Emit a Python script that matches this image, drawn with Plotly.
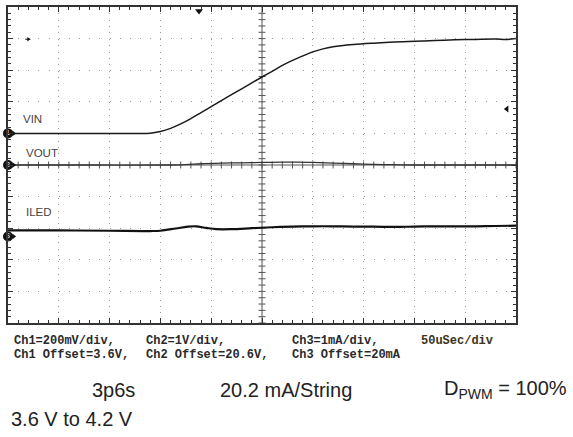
import numpy as np
import plotly.graph_objects as go

# ---------------- data (read from the scope capture) ----------------
time_us = [0, 20, 40, 60, 80, 100, 120, 140, 150, 160, 170, 180, 190, 200, 210, 220,
           230, 240, 250, 260, 270, 280, 290, 300, 310, 320, 340, 360, 380, 400,
           420, 440, 460, 480, 490, 500]
vin_V = [3.600, 3.600, 3.600, 3.600, 3.600, 3.600, 3.600, 3.601, 3.612, 3.632, 3.660,
         3.694, 3.732, 3.770, 3.808, 3.845, 3.882, 3.920, 3.957, 3.993, 4.030, 4.062,
         4.090, 4.116, 4.135, 4.148, 4.162, 4.171, 4.178, 4.183, 4.188, 4.192, 4.195,
         4.197, 4.194, 4.201]

vout_t_us = [0, 80, 160, 175, 190, 210, 230, 250, 270, 285, 300, 320, 340, 360, 380, 400, 450, 500]
vout_V = [20.600, 20.600, 20.600, 20.610, 20.640, 20.660, 20.670, 20.680, 20.690,
          20.690, 20.680, 20.660, 20.640, 20.620, 20.610, 20.600, 20.600, 20.600]

iled_t_us = [0, 50, 100, 140, 150, 165, 177, 185, 195, 205, 220, 240, 260, 280, 300,
             320, 340, 360, 380, 400, 420, 440, 460, 480, 500]
iled_mA = [20.19, 20.19, 20.18, 20.17, 20.18, 20.25, 20.31, 20.32, 20.27, 20.23, 20.23,
           20.26, 20.29, 20.31, 20.32, 20.32, 20.31, 20.31, 20.30, 20.31, 20.32, 20.32,
           20.32, 20.33, 20.34]

# channel settings: (scale per div, offset value, reference position in divisions)
CH1 = dict(scale=0.2, offset=3.6, ref=1.0)
CH2 = dict(scale=1.0, offset=20.6, ref=0.0)
CH3 = dict(scale=1.0, offset=20.0, ref=-2.26)

setting_line1 = ["Ch1=200mV/div,", "Ch2=1V/div,", "Ch3=1mA/div,", "50uSec/div"]
setting_line2 = ["Ch1 Offset=3.6V,", "Ch2 Offset=20.6V,", "Ch3 Offset=20mA"]
captions = ["3p6s", "20.2 mA/String", "D<sub>PWM</sub> = 100%"]
caption2 = "3.6 V to 4.2 V"
trace_labels = ["VIN", "VOUT", "ILED"]


def to_div(vals, ch):
    return [ch["ref"] + (v - ch["offset"]) / ch["scale"] for v in vals]


W, H = 573, 437
ML, MR, MT, MB = 8, 57, 5, 114
PW, PH = W - ML - MR, H - MT - MB

fig = go.Figure()

# center cross tick marks
fig.add_trace(go.Scatter(x=np.arange(0, 501, 10), y=np.zeros(51), mode="markers",
                         marker=dict(symbol="line-ns", size=5, line=dict(width=1, color="#555")),
                         hoverinfo="skip", showlegend=False))
fig.add_trace(go.Scatter(x=np.full(51, 250), y=np.arange(-5, 5.001, 0.2), mode="markers",
                         marker=dict(symbol="line-ew", size=5, line=dict(width=1, color="#555")),
                         hoverinfo="skip", showlegend=False))

# traces
fig.add_trace(go.Scatter(x=time_us, y=to_div(vin_V, CH1), mode="lines", line_shape="spline",
                         line=dict(color="#1a1a1a", width=1.5), showlegend=False))
fig.add_trace(go.Scatter(x=vout_t_us, y=to_div(vout_V, CH2), mode="lines", line_shape="spline",
                         line=dict(color="#333333", width=1.3), showlegend=False))
fig.add_trace(go.Scatter(x=iled_t_us, y=to_div(iled_mA, CH3), mode="lines", line_shape="spline",
                         line=dict(color="#111111", width=2.2), showlegend=False))

# channel reference markers
refs = [CH1["ref"], CH2["ref"], CH3["ref"]]
fig.add_trace(go.Scatter(x=[5.5] * 3, y=refs, mode="markers", cliponaxis=False,
                         marker=dict(symbol="triangle-right", size=5, color="#111"),
                         hoverinfo="skip", showlegend=False))
fig.add_trace(go.Scatter(x=[0] * 3, y=refs, mode="markers+text", cliponaxis=False,
                         marker=dict(symbol="circle", size=10, color="#111"),
                         text=["1", "2", "3"], textposition="middle center",
                         textfont=dict(size=7, color="white", family="Liberation Sans"),
                         hoverinfo="skip", showlegend=False))
# trigger / misc scope markers
fig.add_trace(go.Scatter(x=[188], y=[4.87], mode="markers", cliponaxis=False,
                         marker=dict(symbol="triangle-down", size=7, color="#111"),
                         hoverinfo="skip", showlegend=False))
fig.add_trace(go.Scatter(x=[491], y=[1.77], mode="markers", cliponaxis=False,
                         marker=dict(symbol="triangle-left", size=6, color="#111"),
                         hoverinfo="skip", showlegend=False))
fig.add_trace(go.Scatter(x=[17, 22], y=[3.98, 3.98], mode="lines", line=dict(color="#111", width=1),
                         hoverinfo="skip", showlegend=False))
fig.add_trace(go.Scatter(x=[20], y=[3.98], mode="markers",
                         marker=dict(symbol="triangle-right", size=4, color="#111"),
                         hoverinfo="skip", showlegend=False))

# center lines
fig.add_shape(type="line", x0=250, x1=250, y0=-5, y1=5, line=dict(color="#555", width=1), layer="below")
fig.add_shape(type="line", x0=0, x1=500, y0=0, y1=0, line=dict(color="#555", width=1), layer="below")

# trace labels
for txt, xx, yy, anc in zip(trace_labels, [24, 16, 16], [1.46, 0.39, -1.50], ["center", "left", "left"]):
    fig.add_annotation(x=xx, y=yy, text=txt, showarrow=False, xanchor=anc,
                       font=dict(family="Liberation Sans", size=11.5, color="#444"))


def px_x(xp):
    return (xp - ML) / PW


def px_y(yp):
    return (MT + PH - yp) / PH


mono = dict(family="Liberation Mono", size=12, color="#2a2a2a", weight="bold")
for txt, xp in zip(setting_line1, [13, 145, 291, 420]):
    f = dict(mono)
    if txt.startswith("50u"):
        f["color"] = "#3d3420"
    fig.add_annotation(xref="paper", yref="paper", x=px_x(xp), y=px_y(341.5), text=txt,
                       showarrow=False, xanchor="left", yanchor="middle", font=f, borderpad=0)
for txt, xp in zip(setting_line2, [13, 145, 291]):
    fig.add_annotation(xref="paper", yref="paper", x=px_x(xp), y=px_y(355.5), text=txt,
                       showarrow=False, xanchor="left", yanchor="middle", font=mono, borderpad=0)

sans = dict(family="Liberation Sans", size=20, color="#222")
for txt, xp in zip(captions, [113, 286, 505]):
    fig.add_annotation(xref="paper", yref="paper", x=px_x(xp), y=px_y(390), text=txt,
                       showarrow=False, xanchor="center", yanchor="middle", font=sans)
fig.add_annotation(xref="paper", yref="paper", x=px_x(9), y=px_y(419.5), text=caption2,
                   showarrow=False, xanchor="left", yanchor="middle", font=sans)

axis_common = dict(showline=True, linecolor="#333", linewidth=2, mirror="allticks",
                   ticks="inside", ticklen=5, tickcolor="#333", tickwidth=1,
                   showticklabels=False, zeroline=False, showgrid=True,
                   gridcolor="#9a9a9a", gridwidth=1, tickmode="linear", fixedrange=True)

fig.update_xaxes(range=[0, 500], tick0=0, dtick=50,
                 griddash="1px,%.2fpx" % (PH / 50 - 1),
                 minor=dict(dtick=10, tick0=0, ticks="inside", ticklen=3, tickcolor="#333", showgrid=False),
                 **axis_common)
fig.update_yaxes(range=[-5, 5], tick0=0, dtick=1,
                 griddash="1px,%.2fpx" % (PW / 50 - 1),
                 minor=dict(dtick=0.2, tick0=0, ticks="inside", ticklen=3, tickcolor="#333", showgrid=False),
                 **axis_common)

fig.update_layout(width=W, height=H, margin=dict(l=ML, r=MR, t=MT, b=MB),
                  paper_bgcolor="white", plot_bgcolor="white", showlegend=False)

fig.write_html("out.html", config={"displayModeBar": False},
               post_script="document.body.style.margin='0';document.body.style.overflow='hidden';")
